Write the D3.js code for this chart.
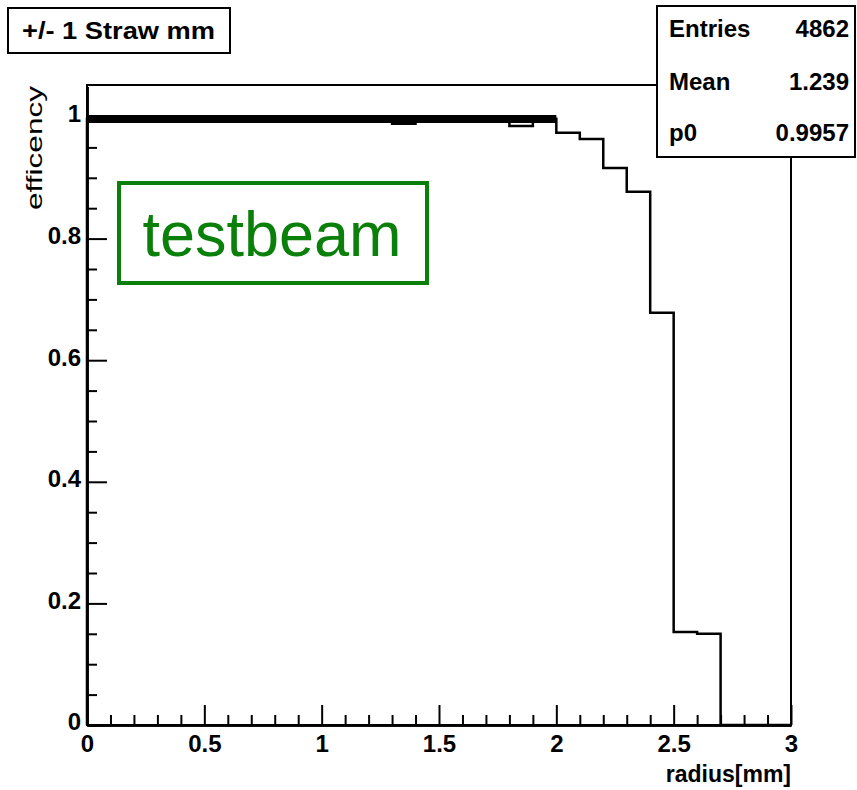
<!DOCTYPE html>
<html>
<head>
<meta charset="utf-8">
<script src="https://cdn.jsdelivr.net/npm/d3@7"></script>
<style>
  html, body { margin: 0; padding: 0; background: #fff; }
  svg { display: block; font-family: "Liberation Sans", Arial, Helvetica, sans-serif; }
</style>
</head>
<body>
<svg id="chart" width="857" height="790"></svg>
<script>
// ---- data ----
const binLowEdges = [0.0,0.1,0.2,0.3,0.4,0.5,0.6,0.7,0.8,0.9,1.0,1.1,1.2,1.3,1.4,1.5,1.6,1.7,1.8,1.9,2.0,2.1,2.2,2.3,2.4,2.5,2.6,2.7,2.8,2.9];
const efficiency  = [0.997,0.998,0.997,0.998,0.997,0.997,0.998,0.997,0.997,0.998,0.997,0.997,0.998,0.989,0.997,0.998,0.997,0.997,0.985,0.997,0.974,0.964,0.916,0.877,0.678,0.153,0.150,0,0,0];
const binWidth = 0.1;
const fitRange = [0, 2];
const fitP0 = 0.9957;
const xMajorTicks = [0, 0.5, 1, 1.5, 2, 2.5, 3];
const xTickLabels = ["0", "0.5", "1", "1.5", "2", "2.5", "3"];
const yMajorTicks = [0, 0.2, 0.4, 0.6, 0.8, 1];
const yTickLabels = ["0", "0.2", "0.4", "0.6", "0.8", "1"];
const statsLabels = ["Entries", "Mean", "p0"];
const statsValues = ["4862", "1.239", "0.9957"];
const titleText = "+/- 1 Straw mm";
const xTitle = "radius[mm]";
const yTitle = "efficency";
const annotation = "testbeam";

// ---- layout ----
const svg = d3.select("#chart");
const L = 87, R = 791, T = 86.6, B = 725;
const x = d3.scaleLinear().domain([0, 3]).range([L, R]);
const y = d3.scaleLinear().domain([0, 1.05]).range([B, T]);

// minor ticks
const xMinor = d3.range(0, 31).map(i => i / 10).filter(v => Math.abs(v * 2 - Math.round(v * 2)) > 1e-6);
const yMinor = d3.range(0, 21).map(i => i * 0.05).filter(v => Math.abs(v * 5 - Math.round(v * 5)) > 1e-6 && v < 1.0);

// frame
svg.append("rect").attr("x", L).attr("y", 85).attr("width", R - L).attr("height", B - 85)
  .attr("fill", "none").attr("stroke", "#000").attr("stroke-width", 2);

// axes
const fmtX = d => xTickLabels[xMajorTicks.indexOf(d)];
const fmtY = d => yTickLabels[yMajorTicks.indexOf(d)];

const gx = svg.append("g").attr("transform", `translate(0,${B})`)
  .call(d3.axisBottom(x).tickValues(xMajorTicks).tickSizeInner(-20).tickSizeOuter(0).tickPadding(10).tickFormat(fmtX));
const gxm = svg.append("g").attr("transform", `translate(0,${B})`)
  .call(d3.axisBottom(x).tickValues(xMinor).tickSizeInner(-10).tickSizeOuter(0).tickFormat(""));
const gy = svg.append("g").attr("transform", `translate(${L},0)`)
  .call(d3.axisLeft(y).tickValues(yMajorTicks).tickSizeInner(-20).tickSizeOuter(0).tickPadding(6).tickFormat(fmtY));
const gym = svg.append("g").attr("transform", `translate(${L},0)`)
  .call(d3.axisLeft(y).tickValues(yMinor).tickSizeInner(-10).tickSizeOuter(0).tickFormat(""));

[gx, gxm, gy, gym].forEach(g => {
  g.select(".domain").attr("stroke", "#000").attr("stroke-width", 2.5);
  g.selectAll(".tick line").attr("stroke", "#000").attr("stroke-width", 2);
  g.selectAll(".tick text").attr("fill", "#000").attr("font-size", 24).attr("font-weight", "bold")
    .attr("font-family", "'Liberation Sans', Arial, sans-serif");
});
gy.selectAll(".tick text").attr("dy", "0.2em");

// histogram step line
const pts = [[0, 0]];
binLowEdges.forEach((e, i) => { pts.push([e, efficiency[i]]); });
pts.push([binLowEdges[binLowEdges.length - 1] + binWidth, efficiency[efficiency.length - 1]]);
const step = d3.line().x(d => x(d[0])).y(d => y(d[1])).curve(d3.curveStepAfter);
svg.append("path").attr("d", step(pts)).attr("fill", "none").attr("stroke", "#000")
  .attr("stroke-width", 2.5);

// fit line (thick)
svg.append("line")
  .attr("x1", x(fitRange[0])).attr("x2", x(fitRange[1]))
  .attr("y1", y(fitP0) - 0.5).attr("y2", y(fitP0) - 0.5)
  .attr("stroke", "#000").attr("stroke-width", 8);

// title box
svg.append("rect").attr("x", 8).attr("y", 8).attr("width", 222).attr("height", 45)
  .attr("fill", "#fff").attr("stroke", "#000").attr("stroke-width", 2);
svg.append("text").attr("x", 22).attr("y", 39).attr("font-size", 24).attr("font-weight", "bold")
  .attr("textLength", 193).attr("lengthAdjust", "spacingAndGlyphs").text(titleText);

// stats box
svg.append("rect").attr("x", 657).attr("y", 6).attr("width", 198).attr("height", 151)
  .attr("fill", "#fff").attr("stroke", "#000").attr("stroke-width", 2);
const statsY = [37, 90, 141];
statsLabels.forEach((s, i) => {
  svg.append("text").attr("x", 669).attr("y", statsY[i]).attr("font-size", 24)
    .attr("font-weight", "bold").text(s);
  svg.append("text").attr("x", 849).attr("y", statsY[i]).attr("font-size", 24)
    .attr("font-weight", "bold").attr("text-anchor", "end").text(statsValues[i]);
});

// axis titles
svg.append("text").attr("x", R).attr("y", 782).attr("text-anchor", "end")
  .attr("font-size", 23).attr("font-weight", "bold").text(xTitle);
svg.append("text").attr("transform", "translate(42,86) rotate(-90)")
  .attr("text-anchor", "end").attr("font-size", 22)
  .attr("textLength", 124).attr("lengthAdjust", "spacingAndGlyphs").text(yTitle);

// annotation box
const green = "#0a800a";
svg.append("rect").attr("x", 119).attr("y", 183).attr("width", 308).attr("height", 100)
  .attr("fill", "#fff").attr("stroke", green).attr("stroke-width", 4);
svg.append("text").attr("x", 272).attr("y", 256).attr("text-anchor", "middle")
  .attr("font-size", 63).attr("fill", green).text(annotation);
</script>
</body>
</html>
